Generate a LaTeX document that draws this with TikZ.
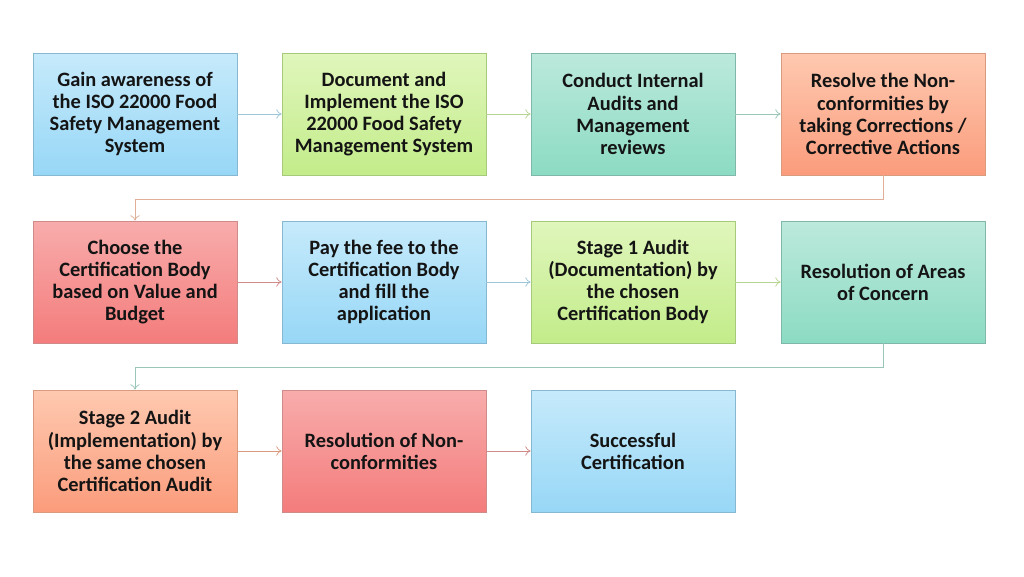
\documentclass[tikz,border=0pt]{standalone}
\usepackage{fontspec}
\setmainfont{Carlito}
\usetikzlibrary{arrows.meta}
\definecolor{bluetop}{HTML}{C6EAFB}
\definecolor{bluebot}{HTML}{97D7F6}
\definecolor{blueline}{HTML}{86B8D2}
\definecolor{grntop}{HTML}{E0F6BC}
\definecolor{grnbot}{HTML}{C3EC8A}
\definecolor{grnline}{HTML}{A6C97A}
\definecolor{tealtop}{HTML}{BCE9DC}
\definecolor{tealbot}{HTML}{8CDBC3}
\definecolor{tealline}{HTML}{7FB8A8}
\definecolor{orgtop}{HTML}{FEC9B0}
\definecolor{orgbot}{HTML}{FB9C7C}
\definecolor{orgline}{HTML}{D99A7E}
\definecolor{redtop}{HTML}{F8ACAC}
\definecolor{redbot}{HTML}{F47C7C}
\definecolor{redline}{HTML}{CF8A8A}
\begin{document}
\begin{tikzpicture}[x=.75pt,y=-.75pt,line width=.6pt,
  every node/.style={font=\bfseries\fontsize{15.3}{16.6}\selectfont,align=center,text=black!92},
  box/.style={draw,minimum width=153pt,minimum height=91.5pt,inner sep=0pt},
  bluebox/.style={box,draw=blueline,top color=bluetop,bottom color=bluebot},
  grnbox/.style={box,draw=grnline,top color=grntop,bottom color=grnbot},
  tealbox/.style={box,draw=tealline,top color=tealtop,bottom color=tealbot},
  orgbox/.style={box,draw=orgline,top color=orgtop,bottom color=orgbot},
  redbox/.style={box,draw=redline,top color=redtop,bottom color=redbot},
  flow/.style={-{To[length=4pt,width=7pt]},line width=.55pt}]
  \path[use as bounding box] (0,0) rectangle (1024,576);
  % first row
  \node[bluebox] (aware) at (135,114) {Gain awareness of\\the ISO 22000 Food\\Safety Management\\System};
  \node[grnbox] (implement) at (384,114) {Document and\\Implement the ISO\\22000 Food Safety\\Management System};
  \node[tealbox] (internal) at (633,114) {Conduct Internal\\Audits and\\Management\\reviews};
  \node[orgbox] (nonconf) at (883,114) {Resolve the Non-\\conformities by\\taking Corrections /\\Corrective Actions};
  % second row
  \node[redbox] (choose) at (135,282) {Choose the\\Certification Body\\based on Value and\\Budget};
  \node[bluebox] (fee) at (384,282) {Pay the fee to the\\Certification Body\\and fill the\\application};
  \node[grnbox] (stage1) at (633,282) {Stage 1 Audit\\(Documentation) by\\the chosen\\Certification Body};
  \node[tealbox] (concern) at (883,282) {Resolution of Areas\\of Concern};
  % third row
  \node[orgbox] (stage2) at (135,451) {Stage 2 Audit\\(Implementation) by\\the same chosen\\Certification Audit};
  \node[redbox] (resolve) at (384,451) {Resolution of Non-\\conformities};
  \node[bluebox] (success) at (633,451) {Successful\\Certification};
  % arrows
  \draw[flow,draw=blueline!80] (aware) -- (implement);
  \draw[flow,draw=grnline!80] (implement) -- (internal);
  \draw[flow,draw=tealline!80] (internal) -- (nonconf);
  \draw[flow,draw=orgline!80] (nonconf.south) -- ++(0,24) -| (choose.north);
  \draw[flow,draw=redline] (choose) -- (fee);
  \draw[flow,draw=blueline!80] (fee) -- (stage1);
  \draw[flow,draw=grnline!80] (stage1) -- (concern);
  \draw[flow,draw=tealline!80] (concern.south) -- ++(0,24) -| (stage2.north);
  \draw[flow,draw=orgline] (stage2) -- (resolve);
  \draw[flow,draw=redline] (resolve) -- (success);
\end{tikzpicture}
\end{document}
